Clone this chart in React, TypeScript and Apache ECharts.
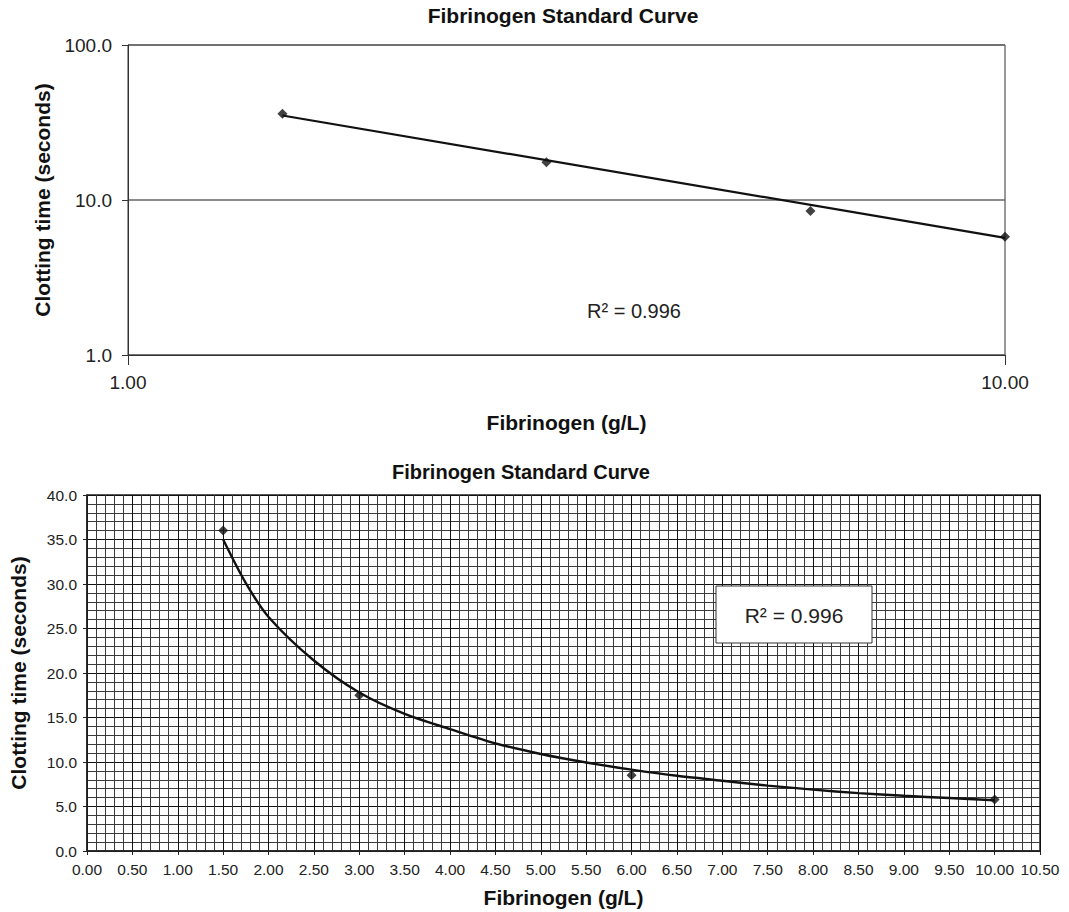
import React, { useEffect, useRef } from "react";
import * as echarts from "echarts";

// Measured standards
const fibrinogen = [1.5, 3.0, 6.0, 10.0];
const clottingTime = [36.0, 17.5, 8.5, 5.8];

// Power trend line (straight in log space)
const logTrendX = [1.5, 10.0];
const logTrendY = [35.1, 5.7];

// Power trend line
const curveX = [1.5, 1.75, 2.0, 2.5, 3.0, 3.5, 4.0, 4.5, 5.0, 5.5, 6.0, 6.5, 7.0, 7.5, 8.0, 8.5, 9.0, 9.5, 10.0];
const curveY = [35.0, 30.1, 26.3, 21.4, 17.8, 15.4, 13.7, 12.1, 10.9, 9.95, 9.15, 8.45, 7.9, 7.35, 6.9, 6.5, 6.2, 5.95, 5.7];

const chartTitle = "Fibrinogen Standard Curve";
const xName = "Fibrinogen (g/L)";
const yName = "Clotting time (seconds)";
const rSquaredText = "R² = 0.996";

const FONT = "'Liberation Sans', Arial, Helvetica, sans-serif";

export default function App() {
  const ref = useRef<HTMLDivElement>(null);

  useEffect(() => {
    if (!ref.current) return;
    const chart = echarts.init(ref.current, null, { renderer: "svg" });

    const pts = fibrinogen.map((x, i) => [x, clottingTime[i]]);
    const logTrend = logTrendX.map((x, i) => [x, logTrendY[i]]);
    const curve = curveX.map((x, i) => [x, curveY[i]]);

    const nameStyle = { fontFamily: FONT, fontWeight: "bold" as const, fontSize: 21, color: "#111" };

    chart.setOption({
      animation: false,
      backgroundColor: "#fff",
      title: [
        {
          text: chartTitle,
          left: 558,
          top: 0,
          textAlign: "center",
          textStyle: { fontFamily: FONT, fontWeight: "bold", fontSize: 21, color: "#111" },
        },
        {
          text: chartTitle,
          left: 516,
          top: 457,
          textAlign: "center",
          textStyle: { fontFamily: FONT, fontWeight: "bold", fontSize: 20, color: "#111" },
        },
      ],
      grid: [
        { left: 128, top: 45, width: 877, height: 310, show: true, borderColor: "#333", borderWidth: 1, backgroundColor: "transparent" },
        { left: 82, top: 495, width: 958, height: 356, show: true, borderColor: "#222", borderWidth: 1.5, backgroundColor: "transparent" },
      ],
      xAxis: [
        {
          gridIndex: 0,
          type: "log",
          logBase: 10,
          min: 1,
          max: 10,
          name: xName,
          nameLocation: "middle",
          nameGap: 57,
          nameTextStyle: nameStyle,
          axisLine: { show: true, lineStyle: { color: "#333", width: 1 } },
          axisTick: { show: true, length: 10, lineStyle: { color: "#333" } },
          axisLabel: { formatter: (v: number) => v.toFixed(2), fontSize: 19, color: "#222", margin: 18, fontFamily: FONT },
          splitLine: { show: false },
        },
        {
          gridIndex: 1,
          type: "value",
          min: 0,
          max: 10.5,
          interval: 0.5,
          name: xName,
          nameLocation: "middle",
          nameGap: 36,
          nameTextStyle: nameStyle,
          axisLine: { show: true, onZero: false, lineStyle: { color: "#222", width: 1.5 } },
          axisTick: { show: true, length: 4, lineStyle: { color: "#222" } },
          axisLabel: { formatter: (v: number) => v.toFixed(2), fontSize: 15.5, color: "#222", margin: 10, fontFamily: FONT },
          minorTick: { show: false, splitNumber: 5 },
          splitLine: { show: true, lineStyle: { color: "#111", width: 1 } },
          minorSplitLine: { show: true, lineStyle: { color: "#3a3a3a", width: 1 } },
        },
      ],
      yAxis: [
        {
          gridIndex: 0,
          type: "log",
          logBase: 10,
          min: 1,
          max: 100,
          name: yName,
          nameLocation: "middle",
          nameGap: 75,
          nameTextStyle: nameStyle,
          axisLine: { show: true, lineStyle: { color: "#333", width: 1 } },
          axisTick: { show: true, length: 6, lineStyle: { color: "#333" } },
          axisLabel: { formatter: (v: number) => v.toFixed(1), fontSize: 19, color: "#222", margin: 16, fontFamily: FONT },
          splitLine: { show: true, lineStyle: { color: "#666", width: 1.5 } },
        },
        {
          gridIndex: 1,
          type: "value",
          min: 0,
          max: 40,
          interval: 5,
          name: yName,
          nameLocation: "middle",
          nameGap: 58,
          nameTextStyle: nameStyle,
          axisLine: { show: true, onZero: false, lineStyle: { color: "#222", width: 1.5 } },
          axisTick: { show: true, length: 4, lineStyle: { color: "#222" } },
          axisLabel: { formatter: (v: number) => v.toFixed(1), fontSize: 15.5, color: "#222", margin: 10, fontFamily: FONT },
          minorTick: { show: false, splitNumber: 5 },
          splitLine: { show: true, lineStyle: { color: "#111", width: 1 } },
          minorSplitLine: { show: true, lineStyle: { color: "#3a3a3a", width: 1 } },
        },
      ],
      series: [
        {
          type: "line",
          xAxisIndex: 0,
          yAxisIndex: 0,
          data: logTrend,
          showSymbol: false,
          symbol: "none",
          lineStyle: { color: "#111", width: 2.2 },
          z: 3,
        },
        {
          type: "scatter",
          xAxisIndex: 0,
          yAxisIndex: 0,
          data: pts,
          symbol: "diamond",
          symbolSize: 10,
          itemStyle: { color: "#111" },
          z: 4,
        },
        {
          type: "line",
          xAxisIndex: 1,
          yAxisIndex: 1,
          data: curve,
          smooth: 0.3,
          showSymbol: false,
          symbol: "none",
          lineStyle: { color: "#111", width: 2.4 },
          z: 3,
        },
        {
          type: "scatter",
          xAxisIndex: 1,
          yAxisIndex: 1,
          data: pts,
          symbol: "diamond",
          symbolSize: 10,
          itemStyle: { color: "#111" },
          z: 4,
        },
      ],
      graphic: [
        {
          type: "text",
          x: 634,
          y: 311,
          style: {
            text: rSquaredText,
            textAlign: "center",
            textVerticalAlign: "middle",
            fontFamily: FONT,
            fontSize: 20,
            fill: "#222",
          },
          z: 10,
        },
        {
          type: "group",
          z: 10,
          children: [
            {
              type: "rect",
              shape: { x: 716, y: 586, width: 156, height: 57 },
              style: { fill: "#fff", stroke: "#333", lineWidth: 1 },
              z: 10,
            },
            {
              type: "text",
              x: 794,
              y: 615,
              style: {
                text: rSquaredText,
                textAlign: "center",
                textVerticalAlign: "middle",
                fontFamily: FONT,
                fontSize: 21,
                fill: "#222",
              },
              z: 11,
            },
          ],
        },
      ],
    });

    return () => chart.dispose();
  }, []);

  return (
    <div
      ref={ref}
      style={{ position: "absolute", left: 0, top: 0, width: 1069, height: 912, background: "#fff" }}
    />
  );
}
